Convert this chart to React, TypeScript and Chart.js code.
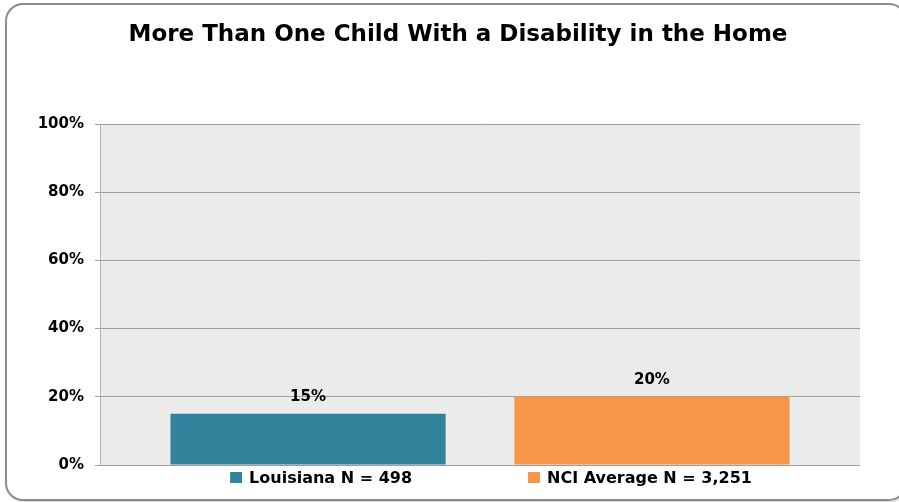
import React, { useEffect, useRef } from "react";
import { Chart, registerables } from "chart.js";

Chart.register(...registerables);

const TITLE = "More Than One Child With a Disability in the Home";
const CATEGORIES = [""];
const SERIES_LABELS = ["Louisiana N = 498", "NCI Average N = 3,251"];
const SERIES_VALUES = [15, 20];
const SERIES_COLORS = ["#31849B", "#F79646"];
const Y_MIN = 0;
const Y_MAX = 100;
const Y_STEP = 20;

const FONT = "'DejaVu Sans', 'Open Sans', sans-serif";

const decorPlugin = {
  id: "decor",
  beforeDraw(chart: any) {
    const { ctx, chartArea } = chart;
    ctx.save();
    ctx.fillStyle = "#EBEBEB";
    ctx.fillRect(chartArea.left, chartArea.top, chartArea.right - chartArea.left, chartArea.bottom - chartArea.top);
    ctx.restore();
  },
  afterDatasetsDraw(chart: any) {
    const { ctx } = chart;
    ctx.save();
    ctx.font = `bold 15px ${FONT}`;
    ctx.fillStyle = "#000";
    ctx.textAlign = "center";
    ctx.textBaseline = "middle";
    chart.data.datasets.forEach((ds: any, i: number) => {
      const meta = chart.getDatasetMeta(i);
      meta.data.forEach((el: any, j: number) => {
        const v = ds.data[j];
        if (v == null) return;
        ctx.fillText(`${v}%`, el.x, el.y - 17);
      });
    });
    ctx.restore();
  },
  afterDraw(chart: any) {
    const { ctx, chartArea } = chart;
    ctx.save();
    // title
    ctx.font = `bold 23px ${FONT}`;
    ctx.fillStyle = "#000";
    ctx.textAlign = "center";
    ctx.textBaseline = "middle";
    ctx.fillText(TITLE, 458, 35);
    // legend
    ctx.font = `bold 16px ${FONT}`;
    const box = 12;
    const gapText = 7;
    const gapItems = 116;
    const items = chart.data.datasets.map((ds: any) => ({
      label: ds.label,
      color: ds.backgroundColor,
      w: box + gapText + ctx.measureText(ds.label).width,
    }));
    const total = items.reduce((s: number, it: any) => s + it.w, 0) + gapItems * (items.length - 1);
    const cx = (chartArea.left + chartArea.right) / 2 + 11;
    let x = cx - total / 2;
    const y = 478;
    ctx.textAlign = "left";
    ctx.textBaseline = "middle";
    items.forEach((it: any) => {
      ctx.fillStyle = it.color;
      ctx.fillRect(x, y - 6, box, 11);
      ctx.fillStyle = "#000";
      ctx.fillText(it.label, x + box + gapText, y + 1);
      x += it.w + gapItems;
    });
    ctx.restore();
  },
};

export default function App() {
  const ref = useRef<HTMLCanvasElement | null>(null);
  useEffect(() => {
    if (!ref.current) return;
    const chart = new Chart(ref.current, {
      type: "bar",
      data: {
        labels: CATEGORIES,
        datasets: SERIES_LABELS.map((label, i) => ({
          label,
          data: [SERIES_VALUES[i]],
          backgroundColor: SERIES_COLORS[i],
          borderWidth: 0,
          barPercentage: 0.8,
          categoryPercentage: 0.905,
        })),
      },
      options: {
        animation: false,
        responsive: true,
        maintainAspectRatio: false,
        layout: { padding: { top: 124, right: 39, bottom: 37, left: 0 } },
        plugins: {
          legend: { display: false },
          title: { display: false },
          tooltip: { enabled: false },
        },
        scales: {
          x: { display: false },
          y: {
            min: Y_MIN,
            max: Y_MAX,
            ticks: {
              stepSize: Y_STEP,
              callback: (v: any) => `${v}%`,
              color: "#000",
              font: { family: FONT, size: 15, weight: "bold" },
              padding: 11,
            },
            grid: { color: "#9E9E9E", lineWidth: 1, tickLength: 5, tickColor: "#9E9E9E" },
            border: { color: "#B0B0B0", width: 1 },
            afterFit: (scale: any) => {
              scale.width = 100;
            },
          },
        },
      },
      plugins: [decorPlugin],
    });
    return () => chart.destroy();
  }, []);

  return (
    <div style={{ position: "fixed", left: 0, top: 0, width: 899, height: 502, overflow: "hidden", background: "#fff" }}>
      <div
        style={{
          position: "absolute",
          left: 5,
          top: 3,
          width: 898,
          height: 494,
          border: "2px solid #8C8C8C",
          borderRadius: 18,
          boxShadow: "1px 1px 2px rgba(0,0,0,0.2)",
        }}
      />
      <div style={{ position: "absolute", left: 0, top: 0, width: 899, height: 502 }}>
        <canvas ref={ref} />
      </div>
    </div>
  );
}
